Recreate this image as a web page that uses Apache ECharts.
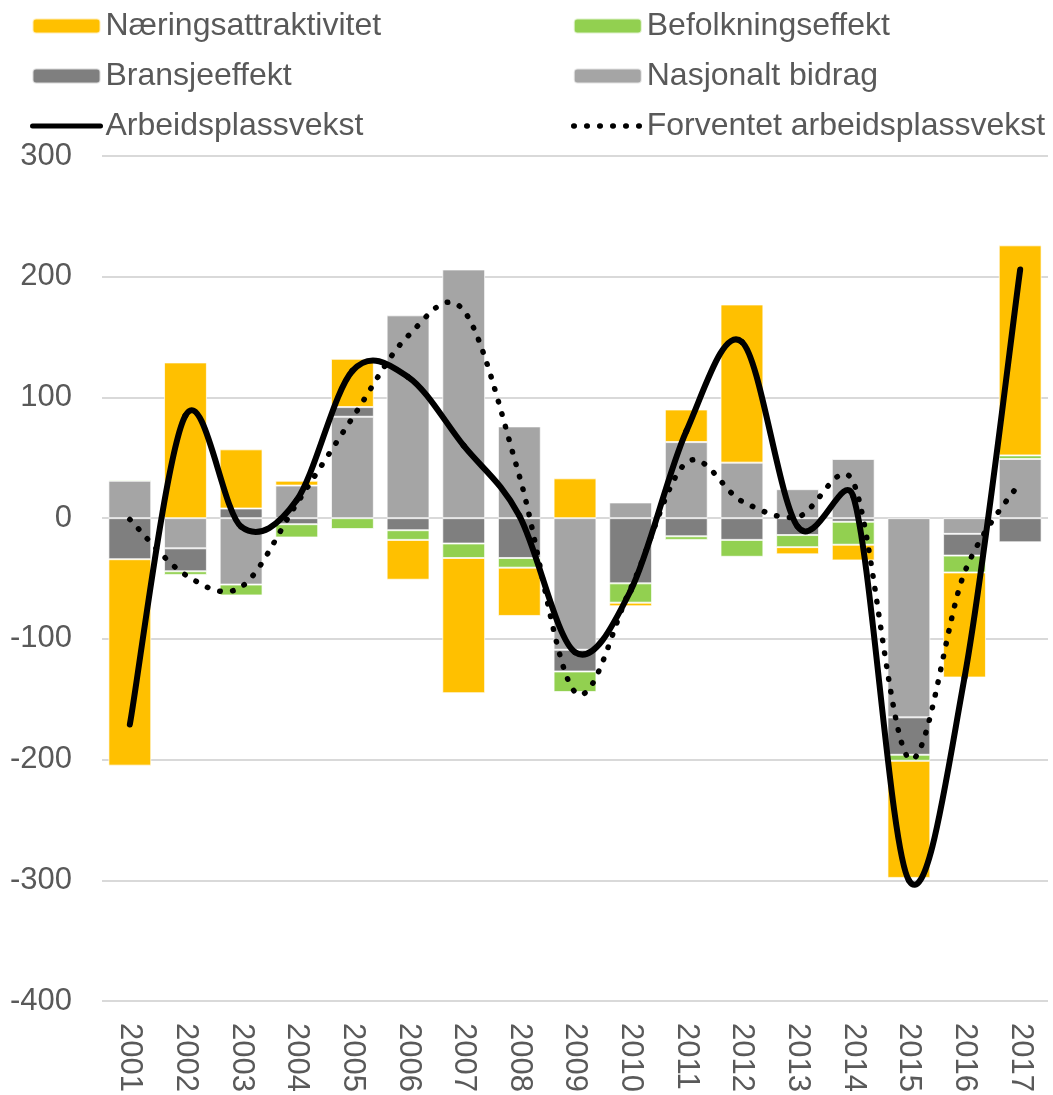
<!DOCTYPE html>
<html>
<head>
    <meta charset="UTF-8">
    <title>Arbeidsplassvekst</title>
    <script type="text/javascript" src="https://cdn.jsdelivr.net/npm/echarts@6/dist/echarts.min.js"></script>
    <style>
        html, body { margin: 0; padding: 0; background: #fff; }
        #myChart { width: 1053px; height: 1095px; }
    </style>
</head>
<body>
    <div id="myChart"></div>
<script>
// år
var aar = ['2001', '2002', '2003', '2004', '2005', '2006', '2007', '2008', '2009',
           '2010', '2011', '2012', '2013', '2014', '2015', '2016', '2017'];

// komponenter (lest av figuren)
var nasjonalt  = [31, -25, -55, 27, 84, 168, 206, 76, -109, 13, 63, 46, 24, 49, -165, -13, 49];
var bransje    = [-34, -19, 8, -5, 8, -10, -21, -33, -18, -54, -15, -18, -14, -3, -31, -18, -20];
var befolkning = [1, -3, -9, -11, -9, -8, -12, -8, -17, -16, -3, -14, -10, -19, -5, -14, 3];
var naering    = [-171, 129, 49, 4, 40, -33, -112, -40, 33, -3, 27, 131, -6, -13, -97, -87, 174];

// linjer
var vekst     = [-171, 85, -7, 15, 122, 117, 60, 2, -111, -60, 72, 146, -7, 18, -300, -132, 206];
var forventet = [-1, -47, -57, 12, 83, 151, 172, 35, -144, -58, 46, 14, 1, 30, -199, -45, 30];

var yTicks = [-400, -300, -200, -100, 0, 100, 200, 300];

var tekstFarge = '#595959';
var font = 'Liberation Sans, Arial, sans-serif';

var chart_myChart = echarts.init(document.getElementById('myChart'), null, {renderer: 'canvas'});

function stolpe(navn, verdier, farge) {
    return {
        name: navn,
        type: 'bar',
        stack: 'total',
        barCategoryGap: '23%',
        data: verdier,
        itemStyle: {
            color: farge,
            borderColor: 'rgba(255,255,255,0.7)',
            borderWidth: 1
        },
        emphasis: {disabled: true}
    };
}

// lengde av en bezier-bit (for at prikkene skal fortsette jevnt)
function bezLengde(p1, c1, c2, p2) {
    var len = 0, px = p1[0], py = p1[1];
    for (var k = 1; k <= 24; k++) {
        var t = k / 24, u = 1 - t;
        var x = u*u*u*p1[0] + 3*u*u*t*c1[0] + 3*u*t*t*c2[0] + t*t*t*p2[0];
        var y = u*u*u*p1[1] + 3*u*u*t*c1[1] + 3*u*t*t*c2[1] + t*t*t*p2[1];
        len += Math.sqrt((x-px)*(x-px) + (y-py)*(y-py));
        px = x; py = y;
    }
    return len;
}

function avstand(a, b) {
    return Math.sqrt((a[0]-b[0])*(a[0]-b[0]) + (a[1]-b[1])*(a[1]-b[1]));
}

// kontrollpunkt som i excel: tangent/6, men aldri mer enn halve biten
function kontroll(fra, a, b, seg, fortegn) {
    var d = avstand(a, b);
    if (d === 0) return [fra[0], fra[1]];
    var len = Math.min(d / 6, seg / 2);
    return [fra[0] + fortegn * (b[0] - a[0]) / d * len,
            fra[1] + fortegn * (b[1] - a[1]) / d * len];
}

function segment(api, verdier, i) {
    var n = verdier.length;
    var i0 = Math.max(i - 1, 0), i3 = Math.min(i + 2, n - 1);
    var p0 = api.coord([i0, verdier[i0]]);
    var p1 = api.coord([i, verdier[i]]);
    var p2 = api.coord([i + 1, verdier[i + 1]]);
    var p3 = api.coord([i3, verdier[i3]]);
    var seg = avstand(p1, p2);
    return {
        p1: p1,
        c1: kontroll(p1, p0, p2, seg, 1),
        c2: kontroll(p2, p1, p3, seg, -1),
        p2: p2
    };
}

function kurve(navn, verdier, linjeStil) {
    return {
        name: navn,
        type: 'custom',
        z: linjeStil.z,
        silent: true,
        data: verdier.map(function (v, i) { return [i, v]; }),
        encode: {x: 0, y: 1},
        renderItem: function (params, api) {
            var i = params.dataIndex;
            if (i >= verdier.length - 1) return null;
            var offset = 0;
            for (var j = 0; j < i; j++) {
                var sj = segment(api, verdier, j);
                offset += bezLengde(sj.p1, sj.c1, sj.c2, sj.p2);
            }
            var s = segment(api, verdier, i);
            return {
                type: 'bezierCurve',
                shape: {
                    x1: s.p1[0], y1: s.p1[1],
                    x2: s.p2[0], y2: s.p2[1],
                    cpx1: s.c1[0], cpy1: s.c1[1],
                    cpx2: s.c2[0], cpy2: s.c2[1]
                },
                style: {
                    fill: null,
                    stroke: '#000',
                    lineWidth: linjeStil.width,
                    lineCap: 'round',
                    lineJoin: 'round',
                    lineDash: linjeStil.dash || null,
                    lineDashOffset: linjeStil.dash ? offset : 0
                }
            };
        }
    };
}

// tomme linjeserier bare for tegnforklaringen
function legendLinje(navn, bredde, type) {
    return {
        name: navn,
        type: 'line',
        data: [],
        symbol: 'none',
        lineStyle: {color: '#000', width: bredde, type: type, cap: 'round'},
        itemStyle: {color: '#000'}
    };
}

var legendText = {fontSize: 32, color: tekstFarge, fontFamily: font};

var option = {
    animation: false,
    textStyle: {fontFamily: font},
    legend: [
        {
            orient: 'vertical',
            left: 30,
            top: 10,
            padding: 0,
            itemWidth: 68,
            itemHeight: 15,
            itemGap: 18,
            itemTextGap: 9,
            textStyle: legendText,
            data: ['Næringsattraktivitet', 'Bransjeeffekt',
                   {
                       name: 'Arbeidsplassvekst',
                       itemStyle: {opacity: 0},
                       lineStyle: {width: 5, color: '#000', type: 'solid', cap: 'round'}
                   }]
        },
        {
            orient: 'vertical',
            left: 571,
            top: 10,
            padding: 0,
            itemWidth: 68,
            itemHeight: 15,
            itemGap: 18,
            itemTextGap: 9,
            textStyle: legendText,
            data: ['Befolkningseffekt', 'Nasjonalt bidrag',
                   {
                       name: 'Forventet arbeidsplassvekst',
                       itemStyle: {opacity: 0},
                       lineStyle: {width: 5.5, color: '#000', type: [0.5, 12.5], cap: 'round'}
                   }]
        }
    ],
    grid: {
        left: 102,
        right: 5,
        top: 156,
        bottom: 91,
        containLabel: false
    },
    xAxis: {
        type: 'category',
        data: aar,
        axisLine: {show: false},
        axisTick: {show: false},
        axisLabel: {
            rotate: -90,
            margin: 22,
            fontSize: 31,
            color: tekstFarge,
            interval: 0
        }
    },
    yAxis: {
        type: 'value',
        min: yTicks[0],
        max: yTicks[yTicks.length - 1],
        interval: 100,
        axisLine: {show: false},
        axisTick: {show: false},
        axisLabel: {
            margin: 30,
            fontSize: 31,
            color: tekstFarge
        },
        splitLine: {
            lineStyle: {color: '#d9d9d9', width: 2}
        }
    },
    series: [
        stolpe('Nasjonalt bidrag', nasjonalt, '#a5a5a5'),
        stolpe('Bransjeeffekt', bransje, '#7f7f7f'),
        stolpe('Befolkningseffekt', befolkning, '#92d050'),
        stolpe('Næringsattraktivitet', naering, '#ffc000'),
        legendLinje('Forventet arbeidsplassvekst', 5.5, [0.5, 12.5]),
        legendLinje('Arbeidsplassvekst', 5, 'solid'),
        kurve('Forventet arbeidsplassvekst', forventet, {width: 5.5, dash: [0.5, 12.5], z: 5}),
        kurve('Arbeidsplassvekst', vekst, {width: 6, z: 6})
    ]
};

chart_myChart.setOption(option);
</script>
</body>
</html>
